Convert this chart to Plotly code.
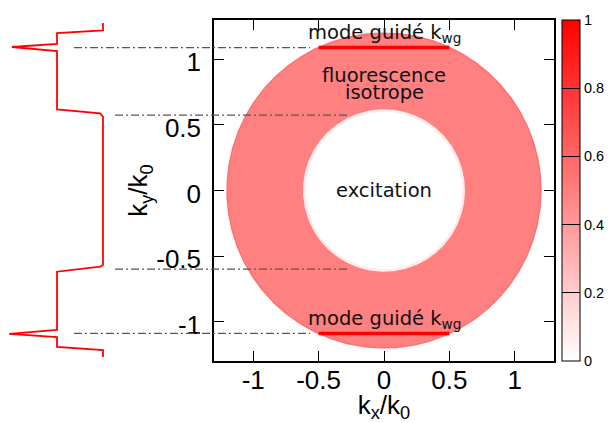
import numpy as np
import plotly.graph_objects as go

# ---------------- data ----------------
ring_inner = 0.61          # k/k0, edge of excitation disc
ring_outer = 1.20          # k/k0, outer edge of fluorescence ring
ring_level = 0.5           # intensity of isotropic fluorescence
kwg = 1.09                 # guided mode |ky|
kwg_half = 0.5             # half extent in kx of the guided-mode line
kwg_level = 1.0

# intensity profile along ky (left-hand curve)
profile_ky = [1.277, 1.22, 1.20, 1.117, 1.094, 1.063, 0.619, 0.588, 0.562,
              -0.568, -0.581, -0.619, -1.063, -1.093, -1.117, -1.193, -1.216, -1.27]
profile_I = [0.0, 0.0, 0.5, 0.5, 0.99, 0.5, 0.5, 0.03, 0.0,
             0.0, 0.03, 0.5, 0.5, 1.02, 0.5, 0.5, 0.0, 0.0]

guide_levels_outer = [1.09, -1.09]
guide_levels_inner = [0.575, -0.60]

x_tickvals = [-1, -0.5, 0, 0.5, 1]
x_ticktext = ["-1", "-0.5", "0", "0.5", "1"]
y_tickvals = [-1, -0.5, 0, 0.5, 1]
y_ticktext = ["-1", "-0.5", "0", "0.5", "1"]
cb_tickvals = [0, 0.2, 0.4, 0.6, 0.8, 1]
cb_ticktext = ["0", "0.2", "0.4", "0.6", "0.8", "1"]

colorscale = [[0, "rgb(255,255,255)"], [1, "rgb(255,0,0)"]]


def scale_color(v):
    g = int(round(255 * (1 - v)))
    return f"rgb(255,{g},{g})"


# page body adds an 8px offset, so the figure is 8px smaller than the window
W, H = 608, 415
fig = go.Figure()

th = np.linspace(0, 2 * np.pi, 721)
# fluorescence ring (outer disc)
fig.add_trace(go.Scatter(
    x=ring_outer * np.cos(th), y=ring_outer * np.sin(th),
    mode="lines", fill="toself", fillcolor=scale_color(ring_level),
    line=dict(color="rgb(255,112,112)", width=1.5),
    hoverinfo="skip", showlegend=False))
# excitation disc
fig.add_trace(go.Scatter(
    x=ring_inner * np.cos(th), y=ring_inner * np.sin(th),
    mode="lines", fill="toself", fillcolor="white",
    line=dict(color="rgb(253,234,234)", width=2.5),
    hoverinfo="skip", showlegend=False))
# guided-mode lines
fig.add_trace(go.Scatter(
    x=[-kwg_half, kwg_half, None, -kwg_half, kwg_half],
    y=[kwg, kwg, None, -kwg, -kwg],
    mode="lines", line=dict(color=scale_color(kwg_level), width=3.5),
    hoverinfo="skip", showlegend=False))
# colorbar carrier
fig.add_trace(go.Scatter(
    x=[0, 0], y=[0, 0], mode="markers",
    marker=dict(color=[0, 1], colorscale=colorscale, cmin=0, cmax=1, opacity=0, size=1,
                showscale=True,
                colorbar=dict(
                    x=554 / W, xanchor="left", y=0.5, yanchor="middle",
                    len=1, lenmode="fraction", thickness=18, xpad=0, ypad=0,
                    outlinewidth=1, outlinecolor="black",
                    ticks="inside", ticklen=18, tickwidth=1, tickcolor="black",
                    tickvals=cb_tickvals, ticktext=cb_ticktext,
                    tickfont=dict(family="Liberation Sans", size=14.5, color="black"),
                )),
    hoverinfo="skip", showlegend=False))
# profile along ky
fig.add_trace(go.Scatter(
    x=profile_I, y=profile_ky, xaxis="x2", yaxis="y",
    mode="lines", line=dict(color="red", width=1.8),
    hoverinfo="skip", showlegend=False, cliponaxis=False))

shapes = []
for lv in guide_levels_outer:
    shapes.append(dict(type="line", xref="paper", yref="y", x0=66 / W, x1=302 / W,
                       y0=lv, y1=lv, layer="above",
                       line=dict(color="#555555", width=1.3, dash="8px,3px,2px,3px")))
for lv in guide_levels_inner:
    shapes.append(dict(type="line", xref="paper", yref="y", x0=107 / W, x1=341 / W,
                       y0=lv, y1=lv, layer="above",
                       line=dict(color="#555555", width=1.3, dash="8px,3px,2px,3px")))

afont = dict(family="DejaVu Sans", size=19.5, color="#111111")
annotations = [
    dict(x=0, y=1.195, text="mode guidé k<sub>wg</sub>", showarrow=False, font=afont,
         xref="x", yref="y", yanchor="middle"),
    dict(x=0, y=-0.985, text="mode guidé k<sub>wg</sub>", showarrow=False, font=afont,
         xref="x", yref="y", yanchor="middle"),
    dict(x=0, y=0.88, text="fluorescence", showarrow=False, font=afont,
         xref="x", yref="y", yanchor="middle"),
    dict(x=0, y=0.745, text="isotrope", showarrow=False, font=afont,
         xref="x", yref="y", yanchor="middle"),
    dict(x=0, y=0.0, text="excitation", showarrow=False, font=afont,
         xref="x", yref="y", yanchor="middle"),
]

tickfont = dict(family="Liberation Sans", size=26, color="black")
titlefont = dict(family="Liberation Sans", size=26, color="black")

fig.update_layout(
    width=W, height=H,
    margin=dict(l=0, r=0, t=12, b=62, autoexpand=False),
    paper_bgcolor="white", plot_bgcolor="white",
    font=dict(family="Liberation Sans"),
    xaxis=dict(domain=[206 / W, 546 / W], range=[-1.3, 1.3], automargin=False,
               tickvals=x_tickvals, ticktext=x_ticktext,
               ticks="inside", ticklen=10, tickwidth=1, tickcolor="black",
               showline=True, linecolor="black", linewidth=1.5, mirror="ticks",
               showgrid=False, zeroline=False, tickfont=tickfont,
               ticklabelstandoff=-5,
               title=dict(text="k<sub>x</sub>/k<sub>0</sub>", font=titlefont, standoff=6)),
    yaxis=dict(domain=[0, 1], range=[-1.3, 1.3], automargin=False,
               tickvals=y_tickvals, ticktext=y_ticktext,
               ticks="inside", ticklen=10, tickwidth=1, tickcolor="black",
               showline=True, linecolor="black", linewidth=1.5, mirror="ticks",
               showgrid=False, zeroline=False, tickfont=tickfont,
               ticklabelstandoff=6, ticklabelshift=3,
               title=dict(text="k<sub>y</sub>/k<sub>0</sub>", font=titlefont, standoff=1)),
    xaxis2=dict(domain=[0, 0.2], anchor="y", range=[95 / 92, -26.6 / 92], visible=False,
                showgrid=False, zeroline=False, automargin=False),
    shapes=shapes,
    annotations=annotations,
)

fig.write_html("out.html")
